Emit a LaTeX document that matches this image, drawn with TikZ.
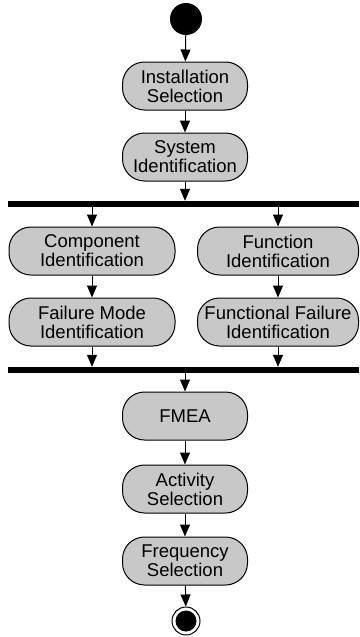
\documentclass[tikz,border=0pt]{standalone}
\usepackage{fontspec}
\setmainfont{Liberation Sans}
\usetikzlibrary{arrows.meta}
\definecolor{actgray}{RGB}{200,200,200}
\begin{document}
\begin{tikzpicture}[x=1pt,y=-1pt,
  act/.style={draw=black, line width=1pt, fill=actgray, rounded corners=22pt,
    minimum height=48pt, align=center, inner sep=0pt,
    font=\fontsize{18.5}{19}\selectfont},
  flow/.style={line width=1pt, -{Triangle[length=12pt,width=10pt]}},
  syncbar/.style={fill=black, rectangle, inner sep=0pt, minimum height=6pt, minimum width=351pt}
]
\useasboundingbox (0,0) rectangle (359,637);

% start and end markers
\node[circle, fill=black, inner sep=0pt, minimum size=32pt] (start) at (186,19) {};
\node[circle, draw=black, line width=1pt, fill=white, inner sep=0pt, minimum size=28pt] (endring) at (186,621) {};
\node[circle, fill=black, inner sep=0pt, minimum size=21pt] (enddot) at (endring) {};

% sequential activities
\node[act, minimum width=125pt] (inst) at (185,86) {Installation\\Selection};
\node[act, minimum width=125pt] (sys) at (185,157) {System\\Identification};

% fork / join bars
\node[syncbar] (fork) at (183.5,204) {};
\node[syncbar] (join) at (183.5,370) {};

% parallel branches
\node[act, minimum width=166pt] (comp) at (92,251) {Component\\Identification};
\node[act, minimum width=166pt] (fmode) at (92,322) {Failure Mode\\Identification};
\node[act, minimum width=161pt] (func) at (278,251) {Function\\Identification};
\node[act, minimum width=161pt] (ffail) at (278,322) {Functional Failure\\Identification};

% final activities
\node[act, minimum width=125pt] (fmea) at (185,416) {FMEA};
\node[act, minimum width=125pt] (actsel) at (185,489) {Activity\\Selection};
\node[act, minimum width=125pt] (freq) at (185,561) {Frequency\\Selection};

% connectors
\draw[flow] (start) -- (inst);
\draw[flow] (inst) -- (sys);
\draw[flow] (sys.south) -- (sys.south |- fork.north);
\draw[flow] (comp.north |- fork.south) -- (comp.north);
\draw[flow] (func.north |- fork.south) -- (func.north);
\draw[flow] (comp) -- (fmode);
\draw[flow] (func) -- (ffail);
\draw[flow] (fmode.south) -- (fmode.south |- join.north);
\draw[flow] (ffail.south) -- (ffail.south |- join.north);
\draw[flow] (fmea.north |- join.south) -- (fmea.north);
\draw[flow] (fmea) -- (actsel);
\draw[flow] (actsel) -- (freq);
\draw[flow] (freq) -- (endring);
\end{tikzpicture}
\end{document}
